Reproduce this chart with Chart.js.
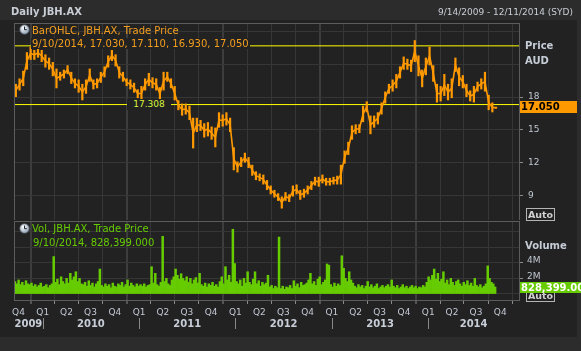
<!DOCTYPE html>
<html><head><meta charset="utf-8">
<script src="https://cdn.jsdelivr.net/npm/chart.js@4/dist/chart.umd.min.js"></script>
<style>
html,body{margin:0;padding:0;width:581px;height:351px;overflow:hidden;background:#2c2c2c;font-family:"DejaVu Sans",sans-serif;}
#frame{position:absolute;left:0;top:20px;width:577px;height:317px;background:#222;}
canvas{position:absolute;left:0;}
.t{position:absolute;white-space:nowrap;line-height:1;}
.b{font-weight:bold;}
.box{position:absolute;overflow:hidden;white-space:nowrap;box-sizing:border-box;}
</style></head><body>
<div id="frame"></div>
<canvas id="cp" width="581" height="220" style="top:0"></canvas>
<canvas id="cv" width="581" height="120" style="top:220px"></canvas>

<div class="t b" style="left:11px;top:7px;font-size:10px;color:#c9ced6">Daily JBH.AX</div>
<div class="t" style="right:8px;top:8px;font-size:9px;color:#c9ced6">9/14/2009 - 12/11/2014 (SYD)</div>

<svg style="position:absolute;left:19px;top:24px" width="11" height="11" viewBox="0 0 11 11"><defs><radialGradient id="g1" cx="40%" cy="35%" r="65%"><stop offset="0" stop-color="#ffffff"/><stop offset="1" stop-color="#8fa0b4"/></radialGradient></defs><circle cx="5.5" cy="5.5" r="4.8" fill="url(#g1)" stroke="#4a4f57" stroke-width="0.8"/><path d="M5.5 2.6V5.7H7.8" stroke="#1d2229" stroke-width="1" fill="none"/></svg>
<div class="t" id="pLeg1" style="left:32px;top:26px;font-size:10px;color:#f59f1e"></div>
<div class="box" id="pLeg2" style="left:31px;top:38px;height:11px;line-height:11px;font-size:10px;color:#f59f1e;background:#222;padding:0 1px"></div>

<svg style="position:absolute;left:19px;top:223px" width="11" height="11" viewBox="0 0 11 11"><defs><radialGradient id="g2" cx="40%" cy="35%" r="65%"><stop offset="0" stop-color="#ffffff"/><stop offset="1" stop-color="#8fa0b4"/></radialGradient></defs><circle cx="5.5" cy="5.5" r="4.8" fill="url(#g2)" stroke="#4a4f57" stroke-width="0.8"/><path d="M5.5 2.6V5.7H7.8" stroke="#1d2229" stroke-width="1" fill="none"/></svg>
<div class="t" id="vLeg1" style="left:32px;top:224px;font-size:10px;color:#66cc00"></div>
<div class="t" id="vLeg2" style="left:33px;top:238px;font-size:10px;color:#66cc00"></div>

<div class="box" id="refLbl" style="left:127px;width:44px;height:11px;line-height:11px;font-size:9px;color:#d6f53a;background:#222;text-align:center"></div>

<div class="t b" style="left:525px;top:41px;font-size:10px;color:#c5ccd6">Price</div>
<div class="t b" style="left:525px;top:56px;font-size:10px;color:#c5ccd6">AUD</div>
<div class="box b" id="lastBox" style="left:520px;width:57px;height:12px;line-height:12px;font-size:10px;color:#000;background:#ff9900;padding-left:1px"></div>
<div class="box b" style="left:526px;top:208px;width:29px;height:13px;line-height:11px;font-size:9.5px;color:#cfcfcf;border:1px solid #b5b5b5;text-align:center">Auto</div>

<div class="t b" style="left:525px;top:241px;font-size:10px;color:#c5ccd6">Volume</div>
<div class="box b" style="left:526px;top:289px;width:29px;height:13px;line-height:11px;font-size:9.5px;color:#cfcfcf;border:1px solid #b5b5b5;text-align:center">Auto</div>
<div class="box b" id="volBox" style="left:520px;width:61px;height:11px;line-height:11px;font-size:10px;color:#fff;background:#66cc00;padding-left:1px"></div>

<script>
// ---------- data ----------
const rangeStart = '2009-09-14';
const rangeEnd = '2014-12-11';

// price: fortnightly high/low, starting 2009-09-14
const priceStart = '2009-09-14';
const priceStepDays = 14;
const priceHigh = [
 19.2,19.7,20.4,22.1,22.6,22.3,22.5,22.3,21.9,21.6,
 21.2,20.6,20.3,20.5,20.9,20.3,19.7,19.6,19.2,19.6,
 20.6,19.6,19.7,20.3,20.8,21.8,22.3,21.9,20.8,20.3,
 19.7,19.6,19.3,18.7,19.0,19.7,20.2,19.8,19.7,18.9,
 20.3,20.3,19.7,19.0,17.7,17.4,17.4,17.2,16.1,16.1,
 15.9,15.6,15.7,15.3,15.2,16.6,16.4,16.6,16.1,13.4,
 12.1,12.5,12.9,12.5,11.8,11.2,11.0,10.9,10.4,9.9,
 9.5,9.2,8.9,9.3,9.1,9.9,10.0,9.5,9.6,9.9,
 10.3,10.7,10.7,10.9,10.6,10.6,10.7,10.8,11.8,13.1,
 13.9,15.4,15.5,15.5,17.2,17.6,16.3,16.3,16.6,17.5,
 18.5,19.2,19.6,20.1,20.8,21.7,21.5,21.4,23.2,21.8,
 20.5,21.6,22.6,20.9,19.2,19.0,20.1,19.2,19.7,21.6,
 20.7,20.0,19.2,18.6,19.0,19.4,19.7,20.3,18.2,17.5,
 17.11
];
const priceLow = [
 18.0,18.6,19.0,20.5,21.4,21.4,21.6,21.2,20.7,20.5,
 19.9,18.8,19.5,19.7,20.1,19.2,18.8,18.4,17.7,18.3,
 19.4,18.7,18.8,19.3,19.8,20.7,21.3,20.8,19.7,19.4,
 19.0,18.7,18.4,17.9,17.7,18.6,19.0,18.8,18.6,17.7,
 18.6,19.4,18.8,17.7,16.8,16.3,16.4,15.9,13.3,14.8,
 14.9,14.3,14.4,14.1,13.4,15.2,15.3,15.4,14.8,11.3,
 11.1,11.6,12.0,11.5,10.8,10.4,10.3,10.0,9.5,9.1,
 8.8,8.5,7.8,8.5,8.4,8.9,9.1,8.6,8.8,9.1,
 9.5,9.9,9.8,10.1,9.9,9.9,10.0,10.0,10.0,11.9,
 12.7,14.1,14.6,14.7,15.7,16.6,14.6,15.2,15.5,16.4,
 17.4,18.3,18.5,18.8,19.7,20.5,20.5,20.3,21.2,19.9,
 18.9,20.0,20.9,19.4,17.5,17.6,18.1,17.7,17.9,20.3,
 19.0,18.8,18.0,17.6,17.5,18.5,18.7,18.5,16.8,16.6,
 16.93
];
const lastDate = '9/10/2014';
const lastOHLC = [17.030, 17.110, 16.930, 17.050];
const refLevels = [22.68, 17.308];

// volume: weekly, millions of shares, starting 2009-09-14
const volStart = '2009-09-14';
const volStepDays = 7;
const volumeM = [
 1.6,1.3,1.8,1.2,1.5,1.1,1.7,1.3,1.2,1.4,
 1.0,1.2,0.9,1.1,1.4,0.9,1.0,1.2,0.8,1.1,1.3,
 4.8,
 1.5,1.9,1.2,2.2,1.6,1.3,2.0,1.4,
 2.65,1.8,2.2,2.85,1.6,2.0,1.3,
 1.2,1.5,1.0,1.7,1.1,1.4,0.9,1.3,1.6,
 3.2,
 1.1,0.9,1.3,1.0,1.2,0.8,1.4,1.0,0.9,
 1.3,1.1,1.5,0.9,1.2,1.8,1.0,1.4,1.1,0.9,1.3,1.0,1.2,
 1.0,1.3,0.9,1.1,1.2,
 3.5,1.4,2.65,1.2,1.0,1.5,
 7.4,
 1.6,2.0,1.3,1.1,1.8,
 2.2,3.2,2.4,1.9,2.6,2.0,1.7,
 2.2,1.5,2.0,1.3,1.8,2.1,1.4,
 2.65,
 1.2,1.0,1.4,0.9,1.3,1.1,1.5,1.0,1.2,0.9,
 1.6,2.2,1.3,3.5,1.8,2.4,1.5,
 8.3,3.9,1.6,
 1.3,1.8,1.0,2.0,1.4,2.85,1.5,1.2,1.9,2.85,1.3,1.7,1.0,1.5,1.2,
 1.4,2.4,
 0.9,1.1,0.7,1.0,0.8,
 7.3,
 0.7,1.0,0.6,0.9,0.8,1.1,0.7,
 1.7,
 1.0,1.3,0.8,1.5,1.1,1.2,
 1.4,1.8,2.65,1.3,1.6,1.1,1.9,2.2,1.2,1.5,
 1.8,3.85,3.7,
 1.2,0.9,1.4,1.0,1.3,1.1,
 4.9,3.3,2.0,1.6,2.85,1.8,1.4,
 1.0,0.8,1.2,0.9,1.1,0.7,1.0,1.6,0.9,1.2,0.8,1.0,1.3,0.7,0.9,1.1,0.8,1.0,1.2,
 0.9,1.8,
 1.0,0.8,1.1,0.7,0.9,1.2,0.8,1.0,0.7,0.9,1.1,0.8,1.0,0.7,0.9,0.8,1.1,0.9,
 1.5,2.2,1.8,2.4,3.2,1.9,2.65,1.6,1.9,2.85,
 1.4,1.8,1.2,2.0,1.5,1.1,1.6,
 1.8,1.3,1.0,1.5,1.2,1.7,1.1,1.4,1.0,
 2.0,1.1,0.9,1.2,0.8,1.0,1.3,
 3.6,2.0,1.5,1.3,0.9
];
const lastVolume = 828399;

// axes
const quarterDates = ['2009-10-01','2010-01-01','2010-04-01','2010-07-01','2010-10-01','2011-01-01','2011-04-01','2011-07-01','2011-10-01','2012-01-01','2012-04-01','2012-07-01','2012-10-01','2013-01-01','2013-04-01','2013-07-01','2013-10-01','2014-01-01','2014-04-01','2014-07-01','2014-10-01'];
const quarterLabels = ['Q4','Q1','Q2','Q3','Q4','Q1','Q2','Q3','Q4','Q1','Q2','Q3','Q4','Q1','Q2','Q3','Q4','Q1','Q2','Q3','Q4'];
const yearNames = ['2009','2010','2011','2012','2013','2014'];
const yearStarts = ['2009-01-01','2010-01-01','2011-01-01','2012-01-01','2013-01-01','2014-01-01'];
const yearEnds = ['2010-01-01','2011-01-01','2012-01-01','2013-01-01','2014-01-01','2015-01-01'];
const priceTicks = [9,12,15,18,21,24];
const priceTickLabels = ['9','12','15','18','',''];
const priceRange = [6.75, 24.77];
const volTicks = [0,2,4,6,8];
const volTickLabels = ['','2M','4M','',''];
const volRange = [-0.77, 9.36];

// ---------- helpers ----------
const DAY = 864e5;
const dayOf = s => (Date.parse(s) - Date.parse('2010-01-01')) / DAY;
const xMin = dayOf(rangeStart), xMax = dayOf(rangeEnd);
const quarterDays = quarterDates.map(dayOf);
const fmt = (v, d) => v.toLocaleString('en-US', {minimumFractionDigits: d, maximumFractionDigits: d});

const priceX = i => dayOf(priceStart) + priceStepDays * i + priceStepDays / 2;
const priceBars = priceHigh.map((h, i) => ({x: priceX(i), y: [priceLow[i], h]}));
const priceMid = priceHigh.map((h, i) => ({x: priceX(i), y: (h + priceLow[i]) / 2}));
const volBars = volumeM.map((v, i) => ({x: dayOf(volStart) + volStepDays * i + volStepDays / 2, y: v}));

Chart.defaults.font.family = '"DejaVu Sans", sans-serif';
Chart.defaults.color = '#c0c8d2';

const GRID = '#363636', YEARGRID = '#3d3d3d', BORDER = '#5c5c5c';
const isYear = c => quarterLabels[c.index] === 'Q1';

const framePlugin = {
  id: 'frame',
  afterDraw(chart) {
    const a = chart.chartArea, c = chart.ctx;
    c.save(); c.strokeStyle = BORDER; c.lineWidth = 1;
    c.strokeRect(Math.floor(a.left) + 0.5, Math.floor(a.top) + 0.5, Math.round(a.right - a.left), Math.round(a.bottom - a.top));
    c.restore();
  }
};

const yearPlugin = {
  id: 'years',
  afterDraw(chart) {
    const xs = chart.scales.x, c = chart.ctx;
    c.save();
    c.font = 'bold 10px "DejaVu Sans"'; c.fillStyle = '#c8ced8';
    c.textAlign = 'center'; c.textBaseline = 'middle';
    yearNames.forEach((name, i) => {
      const s = Math.max(dayOf(yearStarts[i]), xs.min), e = Math.min(dayOf(yearEnds[i]), xs.max);
      c.fillText(name, (xs.getPixelForValue(s) + xs.getPixelForValue(e)) / 2, 104);
    });
    c.strokeStyle = '#8a8a8a'; c.lineWidth = 1;
    yearStarts.forEach(ys => {
      const d = dayOf(ys);
      if (d > xs.min && d < xs.max) {
        const px = Math.round(xs.getPixelForValue(d)) + 0.5;
        c.beginPath(); c.moveTo(px, 98); c.lineTo(px, 109); c.stroke();
      }
    });
    c.restore();
  }
};

const xBase = {
  type: 'linear', min: xMin, max: xMax, offset: false, bounds: 'data',
  afterBuildTicks: s => { s.ticks = quarterDays.map(v => ({value: v})); },
};

// ---------- price chart ----------
const priceChart = new Chart(document.getElementById('cp'), {
  data: {
    datasets: [
      {type: 'bar', data: priceBars, backgroundColor: '#ff9900', borderWidth: 0,
       barPercentage: 0.6, categoryPercentage: 1, order: 0},
      {type: 'line', data: priceMid, borderColor: '#ff9900', borderWidth: 1.6, pointRadius: 0,
       tension: 0, order: 0},
      ...refLevels.map(l => ({type: 'line', data: [{x: xMin, y: l}, {x: xMax, y: l}],
        borderColor: '#ffff00', borderWidth: 1, pointRadius: 0, order: 2}))
    ]
  },
  options: {
    responsive: false, animation: false, events: [],
    layout: {padding: {left: 14, top: 23, right: 0, bottom: 0}},
    plugins: {legend: {display: false}, tooltip: {enabled: false}},
    scales: {
      x: Object.assign({}, xBase, {
        afterFit: s => { s.height = 0; s.paddingLeft = 0; s.paddingRight = 0; },
        ticks: {display: false},
        grid: {drawTicks: false, color: c => isYear(c) ? YEARGRID : GRID, lineWidth: c => isYear(c) ? 2 : 1},
        border: {display: false}
      }),
      y: {
        position: 'right', min: priceRange[0], max: priceRange[1], bounds: 'data',
        afterBuildTicks: s => { s.ticks = priceTicks.map(v => ({value: v})); },
        afterFit: s => { s.width = 62; s.paddingTop = 0; s.paddingBottom = 0; },
        ticks: {callback: (v, i) => priceTickLabels[i], color: '#bfc7d1', font: {size: 9}, padding: 5},
        grid: {color: GRID, tickLength: 4, tickColor: c => priceTickLabels[c.index] ? '#8a8a8a' : 'rgba(0,0,0,0)'},
        border: {color: BORDER}
      }
    }
  },
  plugins: [framePlugin]
});

// ---------- volume chart ----------
const volChart = new Chart(document.getElementById('cv'), {
  data: {
    datasets: [{type: 'bar', data: volBars, backgroundColor: '#66cc00', borderWidth: 0,
      barPercentage: 1, categoryPercentage: 1}]
  },
  options: {
    responsive: false, animation: false, events: [],
    layout: {padding: {left: 14, top: 1, right: 0, bottom: 0}},
    plugins: {legend: {display: false}, tooltip: {enabled: false}},
    scales: {
      x: Object.assign({}, xBase, {
        afterFit: s => { s.height = 40; s.paddingLeft = 0; s.paddingRight = 0; },
        ticks: {autoSkip: false, maxRotation: 0, callback: (v, i) => quarterLabels[i], color: '#c0c8d2', font: {size: 9}, padding: 3},
        grid: {tickLength: 4, tickWidth: 1, tickColor: '#8a8a8a', color: c => isYear(c) ? YEARGRID : GRID, lineWidth: c => isYear(c) ? 2 : 1},
        border: {color: BORDER}
      }),
      y: {
        position: 'right', min: volRange[0], max: volRange[1], bounds: 'data',
        afterBuildTicks: s => { s.ticks = volTicks.map(v => ({value: v})); },
        afterFit: s => { s.width = 62; s.paddingTop = 0; s.paddingBottom = 0; },
        ticks: {callback: (v, i) => volTickLabels[i], color: '#bfc7d1', font: {size: 9}, padding: 4, labelOffset: -2},
        grid: {color: GRID, tickLength: 4, tickColor: c => volTickLabels[c.index] ? '#8a8a8a' : 'rgba(0,0,0,0)'},
        border: {color: BORDER}
      }
    }
  },
  plugins: [framePlugin, yearPlugin]
});

// ---------- overlays tied to scales ----------
const py = priceChart.scales.y, vy = volChart.scales.y;
document.getElementById('pLeg1').textContent = 'BarOHLC, JBH.AX, Trade Price';
document.getElementById('pLeg2').textContent = lastDate + ', ' + lastOHLC.map(v => fmt(v, 3)).join(', ');
document.getElementById('vLeg1').textContent = 'Vol, JBH.AX, Trade Price';
document.getElementById('vLeg2').textContent = lastDate + ', ' + fmt(lastVolume, 3);
const refEl = document.getElementById('refLbl');
refEl.textContent = fmt(refLevels[1], 3);
refEl.style.top = (py.getPixelForValue(refLevels[1]) - 5.5) + 'px';
const lastEl = document.getElementById('lastBox');
lastEl.textContent = fmt(lastOHLC[3], 3);
lastEl.style.top = (py.getPixelForValue(lastOHLC[3]) - 6) + 'px';
const volEl = document.getElementById('volBox');
volEl.textContent = fmt(lastVolume, 2);
volEl.style.top = (220 + vy.getPixelForValue(lastVolume / 1e6) - 6) + 'px';
</script>
</body></html>
